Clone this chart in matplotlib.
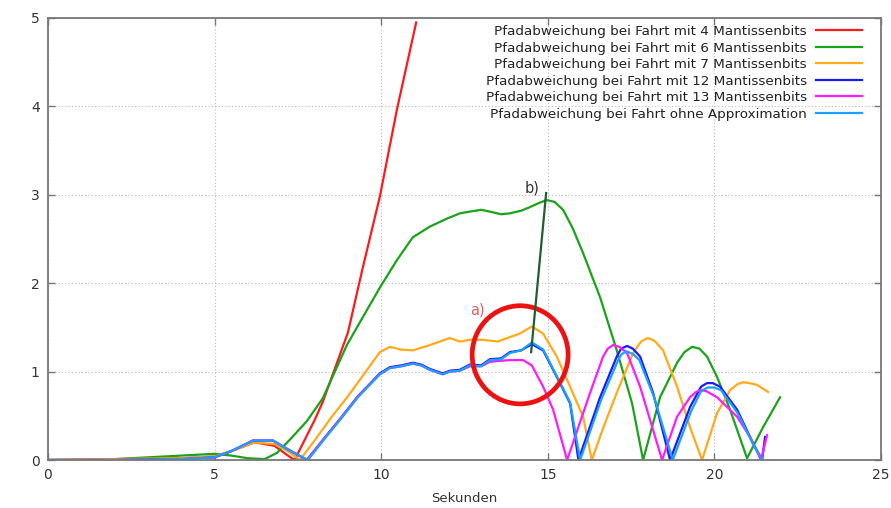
import numpy as np
import matplotlib
matplotlib.use("Agg")
import matplotlib.pyplot as plt
from matplotlib.patches import Ellipse

plt.rcParams['font.family'] = ['DejaVu Sans']

# data ────────────────────────────────────────────────────────────────────

labels = [
    "Pfadabweichung bei Fahrt mit 4 Mantissenbits",
    "Pfadabweichung bei Fahrt mit 6 Mantissenbits",
    "Pfadabweichung bei Fahrt mit 7 Mantissenbits",
    "Pfadabweichung bei Fahrt mit 12 Mantissenbits",
    "Pfadabweichung bei Fahrt mit 13 Mantissenbits",
    "Pfadabweichung bei Fahrt ohne Approximation",
]
colors = ["#ff1a1a", "#1aa31a", "#ffaa1a", "#1a1aff", "#ff1aff", "#1aa0ff"]

t_m4 = [0, 2, 4, 5, 5.5, 6.2, 6.8, 7.2, 7.4, 7.6, 8.0, 8.25, 8.5, 9.0, 9.45, 9.96, 10.47, 11.05]
v_m4 = [0, 0.01, 0.02, 0.04, 0.1, 0.2, 0.16, 0.05, 0.0, 0.15, 0.45, 0.66, 0.92, 1.44, 2.18, 2.98, 3.96, 4.95]

t_m6 = [0, 1.5, 2.5, 3.5, 4.5, 5.0, 5.5, 6.0, 6.5, 6.87, 7.26, 7.77, 8.25, 8.97, 9.5, 9.96,
        10.47, 10.95, 11.46, 11.97, 12.36, 12.66, 13.0, 13.26, 13.6, 13.86, 14.2, 14.46, 14.75,
        14.97, 15.2, 15.46, 15.75, 16.06, 16.57, 17.07, 17.53, 17.86, 18.37, 18.88, 19.1, 19.33,
        19.55, 19.78, 20.08, 20.47, 20.98, 21.46, 21.97]
v_m6 = [0, 0.0, 0.02, 0.04, 0.06, 0.07, 0.05, 0.02, 0.01, 0.08, 0.23, 0.44, 0.7, 1.3, 1.65, 1.95,
        2.26, 2.52, 2.64, 2.73, 2.79, 2.81, 2.83, 2.81, 2.78, 2.79, 2.82, 2.86, 2.91,
        2.94, 2.92, 2.83, 2.62, 2.34, 1.84, 1.24, 0.64, 0.0, 0.71, 1.10, 1.22, 1.28,
        1.26, 1.17, 0.94, 0.57, 0.02, 0.37, 0.71]

t_m7 = [0, 2, 4, 5, 5.5, 6.2, 6.8, 7.2, 7.56, 8.0, 8.5, 9.0, 9.5, 9.96, 10.26, 10.6, 10.95,
        11.46, 12.06, 12.36, 12.66, 13.06, 13.5, 13.86, 14.16, 14.52, 14.86, 15.27, 15.67,
        16.06, 16.32, 16.7, 17.07, 17.56, 17.8, 18.0, 18.2, 18.46, 18.88, 19.27, 19.63, 20.08,
        20.47, 20.7, 20.86, 21.05, 21.28, 21.61]
v_m7 = [0, 0.01, 0.02, 0.04, 0.1, 0.2, 0.18, 0.1, 0.0, 0.22, 0.48, 0.72, 0.98, 1.22, 1.28, 1.25, 1.24,
        1.30, 1.38, 1.34, 1.36, 1.36, 1.34, 1.39, 1.43, 1.51, 1.43, 1.17, 0.83,
        0.49, 0.0, 0.4, 0.76, 1.21, 1.34, 1.38, 1.35, 1.24, 0.83, 0.37, 0.0, 0.53,
        0.79, 0.86, 0.88, 0.87, 0.85, 0.77]

t_m12 = [0, 2, 4, 5, 5.5, 6.15, 6.75, 7.2, 7.77, 8.3, 8.8, 9.3, 9.96, 10.26, 10.6, 10.95, 11.2,
         11.46, 11.85, 12.06, 12.36, 12.66, 13.0, 13.26, 13.6, 13.86, 14.2, 14.52, 14.86, 15.27,
         15.67, 15.92, 16.57, 17.07, 17.2, 17.38, 17.55, 17.77, 18.16, 18.67, 19.27, 19.6, 19.78,
         19.95, 20.17, 20.68, 21.16, 21.43, 21.52]
v_m12 = [0, 0.0, 0.01, 0.03, 0.1, 0.22, 0.22, 0.12, 0.0, 0.25, 0.48, 0.72, 0.98, 1.05, 1.07, 1.10, 1.08,
         1.03, 0.98, 1.01, 1.02, 1.08, 1.07, 1.14, 1.15, 1.22, 1.24, 1.31, 1.24, 0.94,
         0.64, 0.0, 0.71, 1.17, 1.26, 1.29, 1.26, 1.17, 0.76, 0.0, 0.6, 0.83, 0.87,
         0.87, 0.83, 0.57, 0.19, 0.0, 0.26]

t_m13 = [0, 2, 4, 5, 5.5, 6.15, 6.75, 7.2, 7.77, 8.3, 8.8, 9.3, 9.96, 10.26, 10.6, 10.95, 11.2,
         11.46, 11.85, 12.06, 12.36, 12.66, 13.0, 13.26, 13.5, 13.86, 14.26, 14.52, 14.86, 15.16,
         15.58, 16.27, 16.66, 16.8, 16.96, 17.15, 17.38, 17.77, 18.16, 18.43, 18.88, 19.27, 19.45,
         19.57, 19.75, 20.08, 20.68, 21.07, 21.4, 21.58]
v_m13 = [0, 0.0, 0.01, 0.03, 0.1, 0.22, 0.22, 0.12, 0.0, 0.25, 0.48, 0.72, 0.97, 1.04, 1.06, 1.09, 1.07,
         1.02, 0.97, 1.0, 1.01, 1.06, 1.06, 1.11, 1.12, 1.13, 1.13, 1.07, 0.83, 0.57,
         0.0, 0.76, 1.17, 1.26, 1.30, 1.28, 1.21, 0.83, 0.34, 0.0, 0.49, 0.71, 0.77,
         0.79, 0.78, 0.71, 0.49, 0.26, 0.0, 0.28]

t_ref = [0, 2, 4, 5, 5.5, 6.15, 6.75, 7.2, 7.8, 8.3, 8.8, 9.3, 9.96, 10.26, 10.6, 10.95, 11.2,
         11.46, 11.85, 12.06, 12.36, 12.66, 13.0, 13.26, 13.6, 13.86, 14.2, 14.52, 14.86, 15.27,
         15.67, 15.97, 16.6, 17.1, 17.2, 17.35, 17.55, 17.75, 18.2, 18.75, 19.3, 19.6, 19.8,
         20.0, 20.2, 20.7, 21.2, 21.45]
v_ref = [0, 0.0, 0.01, 0.03, 0.1, 0.22, 0.22, 0.12, 0.0, 0.24, 0.47, 0.71, 0.97, 1.04, 1.06, 1.09, 1.07,
         1.02, 0.97, 1.0, 1.01, 1.07, 1.06, 1.13, 1.14, 1.21, 1.24, 1.33, 1.25, 0.95,
         0.65, 0.0, 0.68, 1.12, 1.19, 1.23, 1.2, 1.13, 0.7, 0.0, 0.55, 0.78, 0.82,
         0.82, 0.79, 0.53, 0.15, 0.0]

series_t = [t_m4, t_m6, t_m7, t_m12, t_m13, t_ref]
series_v = [v_m4, v_m6, v_m7, v_m12, v_m13, v_ref]

# annotations
circle_center = (14.17, 1.19)
circle_size = (2.88, 1.11)
label_a = (12.9, 1.70)
label_b = (14.75, 3.08)
pointer_b = ([14.95, 14.5], [3.02, 1.22])

# ─────────────────────────────────────────────

fig = plt.figure(figsize=(8.91, 5.08), dpi=100)
ax = fig.add_axes([48/891, 48/508, 833/891, 442/508])

for tt, vv, c, lab in zip(series_t, series_v, colors, labels):
    ax.plot(tt, vv, color=c, lw=1.6, label=lab, solid_joinstyle='round')

ax.add_patch(Ellipse(circle_center, circle_size[0], circle_size[1], fill=False,
                     ec="#ee1111", lw=3.4, zorder=5))
ax.text(*label_a, "a)", color="#e06060", fontsize=10.5, ha='center', va='center')
ax.text(*label_b, "b)", color="#333333", fontsize=10.5, ha='right', va='center')
ax.plot(*pointer_b, color="#1f5f2f", lw=1.6, zorder=6)

ax.set_xlim(0, 25)
ax.set_ylim(0, 5)
ax.set_xticks([0, 5, 10, 15, 20, 25])
ax.set_yticks([0, 1, 2, 3, 4, 5])
ax.grid(True, color="#bbbbbb", ls=(0, (1, 2)), lw=0.8)
ax.tick_params(direction='in', top=True, right=True, length=5, width=1,
               color="#777777", labelsize=10, labelcolor="#333333", pad=6)
for s in ax.spines.values():
    s.set_color("#777777")
    s.set_linewidth(1.3)
ax.set_xlabel("Sekunden", fontsize=9.5, color="#333333", labelpad=7)

leg = ax.legend(loc='upper right', bbox_to_anchor=(862/891, 1 - 25/508),
                bbox_transform=fig.transFigure, frameon=False, markerfirst=False,
                fontsize=9.7, handlelength=3.4, handletextpad=0.7, labelspacing=0.26,
                borderpad=0, borderaxespad=0)
for txt in leg.get_texts():
    txt.set_color("#222222")

fig.savefig("out.png", dpi=100)
